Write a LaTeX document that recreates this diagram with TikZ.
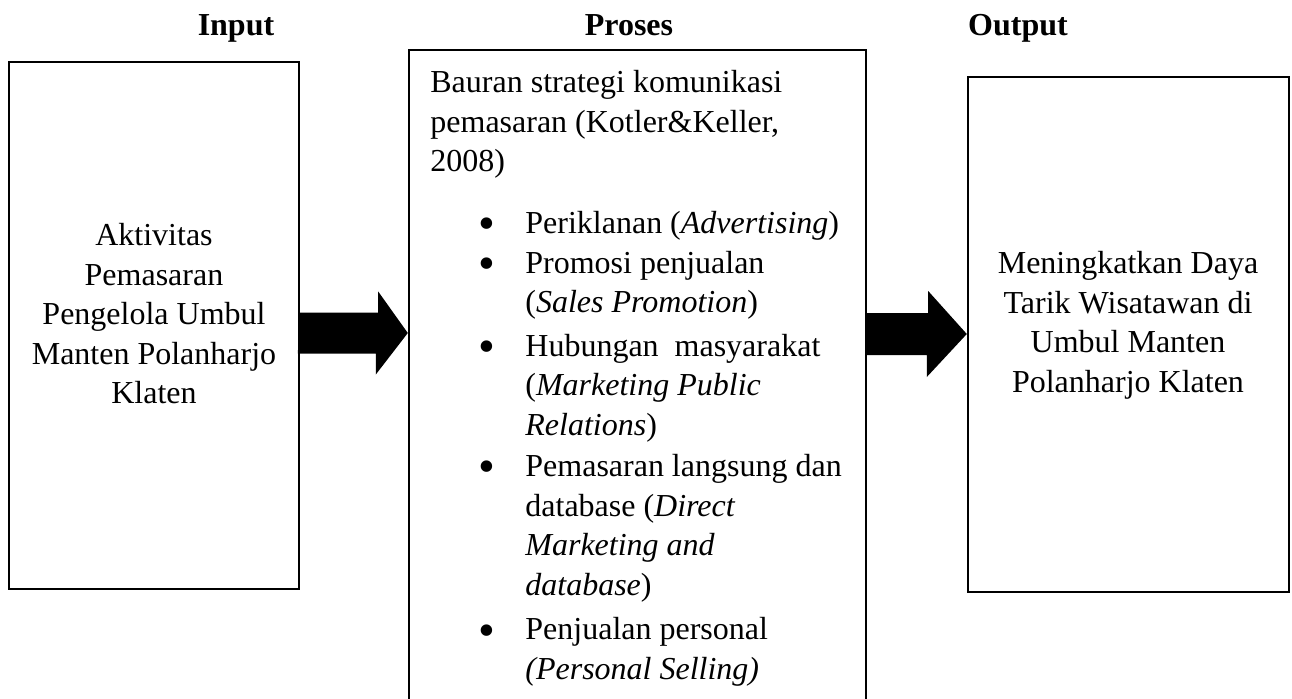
\documentclass[tikz,border=0pt]{standalone}
\usepackage{fontspec}
\setmainfont{Liberation Serif}

\newcommand{\bulitem}{\hspace*{24pt}\makebox[23.5pt][l]{\smash{\raisebox{-3.2pt}{\scalebox{1.5}{\textbullet}}}}}
\newcommand{\bulcont}{\hspace*{47.5pt}}

\begin{document}
\begin{tikzpicture}[x=0.5pt, y=-0.5pt, font=\fontsize{16}{19.8}\selectfont, box/.style={draw, line width=1.2pt, inner sep=0pt}, txt/.style={inner sep=0pt, align=center}, title/.style={font=\fontsize{16}{19.8}\selectfont\bfseries, inner sep=0pt, anchor=base}]
\useasboundingbox (0,0) rectangle (1292,698);
\foreach \x/\name in {236/Input, 629/Proses, 1018/Output}{\node[title] (title-\name) at (\x,35) {\name};}
\node[box, minimum width=145pt, minimum height=263.5pt] (inbox) at (154,325.5) {};
\node[box, minimum width=228.5pt, minimum height=327.5pt] (procbox) at (637.5,377.5) {};
\node[box, minimum width=160.5pt, minimum height=257.5pt] (outbox) at (1128.5,334.5) {};
\node[txt, anchor=north] (intext) at (154,217.3) {\strut Aktivitas\\Pemasaran\\Pengelola Umbul\\Manten Polanharjo\\Klaten};
\node[txt, align=left, anchor=north west] (proctext) at (430,64.3) {\strut Bauran strategi komunikasi\\pemasaran (Kotler\&Keller,\\2008)\\[11.1pt]
\bulitem Periklanan (\textit{Advertising})\\
\bulitem Promosi penjualan\\ \bulcont(\textit{Sales Promotion})\\[2pt]
\bulitem Hubungan\ \ masyarakat\\ \bulcont(\textit{Marketing Public}\\ \bulcont\textit{Relations})\\[0.7pt]
\bulitem Pemasaran langsung dan\\ \bulcont database (\textit{Direct}\\ \bulcont\textit{Marketing and}\\ \bulcont\textit{database})\\[2.5pt]
\bulitem Penjualan personal\\ \bulcont\textit{(Personal Selling)}};
\node[txt, anchor=north] (outtext) at (1128,245.3) {\strut Meningkatkan Daya\\Tarik Wisatawan di\\Umbul Manten\\Polanharjo Klaten};
% block arrows between the boxes
\coordinate (arrA) at (0,333);
\coordinate (arrB) at (0,334);
\fill (inbox.east |- arrA) ++(0,-20.5) -- ++(78,0) -- ++(0,-21) -- (procbox.west |- arrA) -- ++(-32,41.5) -- ++(0,-21) -- ++(-78,0) -- cycle;
\fill (procbox.east |- arrB) ++(0,-21) -- ++(61,0) -- ++(0,-22) -- (outbox.west |- arrB) -- ++(-40,43) -- ++(0,-22) -- ++(-61,0) -- cycle;
\end{tikzpicture}
\end{document}
